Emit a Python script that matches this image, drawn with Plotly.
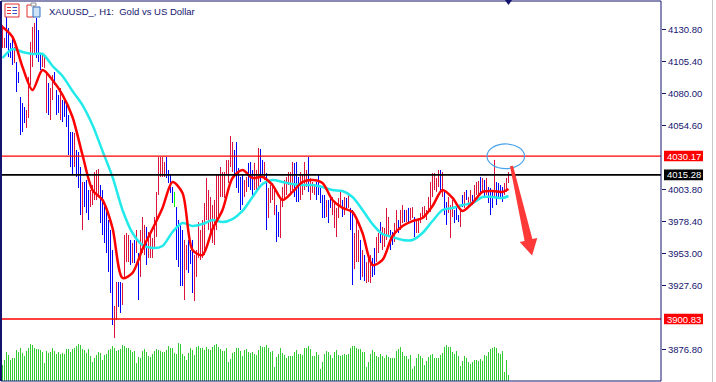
import plotly.graph_objects as go

# ---------------- data (XAUUSD H1) ----------------
highs = [
    4134.3, 4123.9, 4141.4, 4131.8, 4120.0, 4123.9, 4116.8, 4104.8, 4096.9, 4077.1,
    4072.3, 4069.1, 4066.7, 4093.0, 4120.7, 4132.6, 4135.8, 4139.8, 4130.2, 4112.0,
    4110.4, 4108.8, 4096.1, 4088.2, 4084.2, 4094.5, 4096.9, 4082.6, 4078.7, 4084.2,
    4074.7, 4074.7, 4073.1, 4062.8, 4049.3, 4049.3, 4048.5, 4035.0, 4033.4, 4021.5,
    4009.6, 4009.6, 4011.2, 4003.2, 4003.2, 4007.2, 4017.5, 4019.1, 4019.9, 4007.2,
    4003.2, 3993.0, 3987.4, 3979.4, 3971.5, 3955.6, 3911.2, 3930.2, 3930.2, 3930.2,
    3929.4, 3967.5, 3969.1, 3967.5, 3963.6, 3961.2, 3963.6, 3971.5, 3953.2, 3971.5,
    3981.8, 3975.5, 3973.9, 3969.9, 3967.5, 3965.1, 3981.8, 4001.7, 4029.4, 4029.4,
    4029.4, 4025.5, 4029.4, 4019.1, 4015.2, 4005.6, 4001.7, 3989.7, 3979.4, 3975.5,
    3971.5, 3963.6, 3959.6, 3963.6, 3955.6, 3963.6, 3951.6, 3955.6, 3977.8, 3971.5,
    3979.4, 3992.9, 4012.8, 4003.2, 3997.7, 3991.3, 3995.3, 4015.2, 4015.2, 4021.5,
    4017.5, 4017.5, 4027.1, 4027.1, 4046.1, 4041.3, 4035.0, 4041.3, 4020.7, 4013.6,
    4015.2, 4011.2, 4013.6, 4024.7, 4025.5, 4019.1, 4024.7, 4019.1, 4036.6, 4035.8,
    4027.1, 4025.5, 4016.7, 4004.8, 4007.2, 4008.8, 4005.6, 3991.3, 3985.8, 3996.9,
    4005.6, 4011.2, 4013.6, 4017.5, 4017.5, 4025.5, 4024.7, 4025.5, 4013.6, 4017.5,
    4015.2, 4025.5, 4019.1, 4029.4, 4012.8, 4009.6, 4007.2, 4009.6, 4015.2, 4004.8,
    3999.3, 3999.3, 3995.3, 3995.3, 3997.7, 3997.7, 3992.9, 3989.0, 3996.9, 4001.7,
    3995.3, 3997.7, 3996.9, 3999.3, 3989.0, 3987.4, 3969.1, 3981.0, 3971.5, 3963.6,
    3955.6, 3951.6, 3946.1, 3949.3, 3951.6, 3949.3, 3957.2, 3965.9, 3969.1, 3977.8,
    3973.9, 3973.1, 3989.0, 3981.8, 3971.5, 3969.9, 3977.0, 3987.4, 3979.4, 3987.4,
    3991.3, 3987.4, 3987.4, 3989.0, 3989.0, 3989.7, 3981.8, 3979.4, 3981.0, 3985.0,
    3989.7, 3990.5, 3987.4, 3997.7, 4009.6, 4016.7, 4016.7, 4012.8, 4019.1, 4019.1,
    4017.5, 4001.7, 3993.7, 3997.7, 3991.3, 3995.3, 3987.4, 3989.0, 3983.4, 3987.4,
    3999.3, 4001.7, 4003.2, 3997.7, 4003.2, 3999.3, 4007.2, 4009.6, 4010.4, 4013.6,
    4012.8, 4011.2, 4012.8, 4005.6, 4004.8, 4003.2, 4027.1, 4009.6, 4008.8, 4007.2,
    4005.6, 4008.8, 4012.8, 4017.5,
]
lows = [
    4116.0, 4116.0, 4116.0, 4108.8, 4108.0, 4102.5, 4104.0, 4081.0, 4088.2, 4046.9,
    4049.3, 4056.4, 4052.5, 4060.4, 4086.6, 4100.9, 4110.4, 4108.0, 4104.8, 4098.5,
    4100.9, 4100.1, 4064.4, 4062.8, 4058.8, 4074.7, 4086.6, 4062.8, 4064.4, 4058.8,
    4057.2, 4061.2, 4053.3, 4031.0, 4021.5, 4015.2, 4021.5, 4013.6, 4004.8, 3983.4,
    3971.5, 3989.7, 3985.0, 3979.4, 3989.7, 3991.3, 3995.3, 3995.3, 3997.7, 3977.0,
    3967.5, 3961.2, 3953.2, 3938.2, 3921.5, 3896.1, 3885.8, 3900.1, 3910.4, 3905.6,
    3912.0, 3934.2, 3946.1, 3946.1, 3943.7, 3945.3, 3945.3, 3953.2, 3915.9, 3934.2,
    3953.2, 3951.6, 3943.7, 3949.3, 3949.3, 3949.3, 3958.0, 3966.0, 3999.3, 4013.6,
    4013.6, 4013.6, 4012.8, 4008.8, 4000.9, 3992.9, 3989.7, 3947.7, 3942.1, 3927.0,
    3927.0, 3915.9, 3939.7, 3937.4, 3944.5, 3921.5, 3915.1, 3934.2, 3949.3, 3947.7,
    3949.3, 3951.6, 3979.4, 3971.5, 3967.5, 3961.2, 3959.6, 3971.5, 3981.8, 3997.7,
    3997.7, 3996.9, 4015.2, 4008.8, 4021.5, 4017.5, 4015.2, 4004.8, 4000.9, 3987.4,
    3991.3, 3997.7, 4001.7, 4005.6, 4003.2, 3999.3, 4003.2, 4003.2, 4005.6, 4009.6,
    4015.2, 4011.2, 3971.5, 3981.0, 3992.9, 3995.3, 3983.4, 3962.0, 3965.9, 3965.1,
    3989.7, 3995.3, 3999.3, 4007.2, 3999.3, 4003.2, 3997.7, 3993.7, 3993.7, 3995.3,
    3999.3, 4003.2, 4005.6, 4001.7, 3995.3, 4000.9, 3999.3, 3995.3, 3999.3, 3992.9,
    3981.0, 3981.0, 3981.8, 3977.0, 3989.0, 3983.4, 3973.1, 3965.9, 3981.0, 3989.7,
    3981.8, 3983.4, 3987.4, 3989.0, 3971.5, 3927.8, 3940.5, 3946.1, 3946.1, 3931.8,
    3934.2, 3931.0, 3929.4, 3930.2, 3929.4, 3934.2, 3935.8, 3946.1, 3953.2, 3961.2,
    3955.6, 3958.0, 3963.6, 3965.9, 3955.6, 3959.6, 3962.0, 3969.1, 3969.1, 3971.5,
    3977.0, 3977.8, 3977.8, 3977.0, 3979.4, 3981.0, 3965.9, 3969.1, 3969.1, 3977.0,
    3981.8, 3981.0, 3979.4, 3985.0, 3985.8, 3997.7, 4003.2, 4001.7, 4005.6, 4001.7,
    3997.7, 3983.4, 3975.5, 3985.0, 3965.1, 3981.8, 3977.0, 3979.4, 3977.8, 3973.9,
    3989.7, 3989.0, 3995.3, 3989.7, 3991.3, 3991.3, 3995.3, 3999.3, 3999.3, 4000.9,
    4001.7, 3997.7, 3999.3, 3992.9, 3983.4, 3989.0, 3997.7, 3991.3, 3996.9, 3997.7,
    3993.7, 3999.3, 4001.7, 4008.8,
]
# u = up bar, d = down bar, n = doji
directions = (
    "uudddduddd" "dduuuuuddd" "uuuduudddu" "dddddduddd" "uddduuuuud"
    "dddddduudd" "uuuudududu" "uuduuuuuuu" "uuddddnddd" "duuddduuuu"
    "uuuuuuuuuu" "uuuuuudddd" "duuddduuud" "duduuuuddu" "uuuuuudddu"
    "uuuduuuddd" "ddudduuuuu" "dududduuud" "uduuudduud" "uuuudduudu"
    "ududuuduuu" "uuuuuuuuud" "udduuudddu" "duduuduuud" "ududdduddd"
    "duuu"
)
volumes = [
    3200, 4200, 5800, 5200, 4200, 4600, 4600, 6200, 5800, 6600,
    5600, 5000, 6000, 6600, 7400, 7200, 6600, 6400, 6400, 6200,
    5800, 3600, 6000, 5600, 5800, 6600, 6000, 5400, 5800, 5400,
    5600, 5400, 6400, 6400, 5800, 6400, 6600, 7000, 7400, 7200,
    6400, 6200, 5600, 6400, 5000, 3800, 4600, 5200, 5800, 5600,
    4200, 5200, 5400, 6200, 6400, 7000, 6600, 6000, 6200, 6400,
    7200, 7000, 6600, 6600, 6200, 5800, 6000, 3600, 4800, 4600,
    6000, 6400, 5800, 5000, 4800, 5400, 6000, 6400, 6200, 6000,
    5800, 5800, 6200, 7000, 6600, 6600, 5600, 5400, 7600, 7400,
    5400, 5000, 4200, 5600, 6600, 6200, 5200, 6800, 7000, 6600,
    6600, 6200, 6800, 6400, 6200, 6800, 7200, 7400, 6800, 6400,
    6000, 6000, 6600, 3800, 4400, 5600, 5800, 6600, 6600,
    6000, 5000, 6200, 6400, 5800, 5600, 5800, 5400, 5200, 6200,
    7000, 6800, 6800, 7200, 6600, 5800, 6000, 2800, 4800, 5400,
    6600, 5600, 5200, 4600, 5000, 5000, 5000, 5800, 6200, 5400,
    5400, 5200, 6600, 6600, 7000, 6400, 5000, 5000, 5800, 5200,
    2400, 3800, 5400, 6000, 5800, 5200, 4600, 5800, 6200, 5200,
    5000, 5200, 5400, 5200, 5400, 6600, 7000, 7000, 6600, 6400,
    6400, 5800, 5800, 2800, 3800, 5400, 6200, 5800, 5000, 4800,
    5400, 5000, 4600, 5200, 4800, 4600, 4600, 4600, 6000, 6400,
    6800, 5800, 5000, 5000, 4400, 5200, 2400, 3000, 4600, 5400,
    5000, 4600, 3200, 4000, 4800, 5200, 5400, 4600, 4600, 4600,
    5200, 5600, 6800, 7200, 6800, 6800, 5800, 5400, 6000, 5000,
    3000, 4000, 5000, 4600, 3800, 3400, 3800, 4200, 4200, 4000,
    4400, 4000, 5200, 5000, 5800, 6400, 6600, 6800, 6600, 5600,
    5400, 6000, 1800, 4200, 1200,
]
# moving averages, sampled every 5 bars
ma_index = [0, 5, 10, 15, 20, 25, 30, 35, 40, 45, 50, 55, 60, 65, 70, 75, 80, 85, 90, 95,
            100, 105, 110, 115, 120, 125, 130, 135, 140, 145, 150, 155, 160, 165, 170, 175,
            180, 185, 190, 195, 200, 205, 210, 215, 220, 225, 230, 235, 240, 245, 250, 253]
ma_fast = [4132.6, 4124.7, 4100.9, 4082.6, 4098.5, 4090.6, 4078.7, 4061.2, 4031.0, 4003.2,
           3995.3, 3973.1, 3933.4, 3937.4, 3956.4, 3972.3, 3989.0, 4009.6, 4000.9, 3955.6,
           3951.6, 3972.3, 3987.4, 4012.8, 4019.1, 4012.8, 4013.6, 4007.2, 3995.3, 4001.7,
           4009.6, 4011.2, 4008.8, 3995.3, 3989.0, 3985.8, 3969.1, 3943.7, 3947.7, 3966.7,
           3974.7, 3978.6, 3981.0, 3990.5, 4003.2, 3996.9, 3986.6, 3992.9, 4001.7, 4002.4,
           4001.7, 4004.0]
ma_slow = [4108.0, 4115.2, 4112.8, 4111.2, 4111.2, 4101.7, 4093.7, 4081.8, 4070.7, 4054.8,
           4034.2, 4013.6, 3987.4, 3969.1, 3959.6, 3957.2, 3958.8, 3969.9, 3977.0, 3974.7,
           3976.2, 3979.4, 3977.8, 3980.2, 3986.6, 3997.7, 4008.0, 4011.2, 4009.6, 4008.0,
           4007.2, 4007.2, 4005.6, 4003.2, 4002.4, 3997.7, 3987.4, 3976.2, 3968.3, 3965.9,
           3963.6, 3963.6, 3969.1, 3978.6, 3987.4, 3989.0, 3991.3, 3992.9, 3997.7, 3997.7,
           3996.9, 3998.5]
level_lines = [(4030.17, "#ff0000"), (4015.28, "#000000"), (3900.83, "#ff0000")]
tick_vals = [4130.80, 4105.40, 4080.00, 4054.60, 4003.80, 3978.40, 3953.00, 3927.60, 3876.80]
tick_text = ["4130.80", "4105.40", "4080.00", "4054.60", "4003.80", "3978.40", "3953.00",
             "3927.60", "3876.80"]
title_text = "XAUUSD_, H1:\u00a0 Gold vs US Dollar"

# drawings (in bar index / price units)
ellipse_box = (242.25, 261.0, 4020.2, 4039.8)
arrow_pts = [(253.75, 4022.1), (255.25, 4022.5), (264.95, 3964.3), (267.4, 3965.1),
             (264.8, 3951.2), (258.6, 3962.0), (261.05, 3962.8)]

# ---------------- figure ----------------
W, H = 716, 382
ML, MR, MT, MB = 1, 55, 1, 1
PW, PH = W - ML - MR, H - MT - MB
NAVY = "#14146e"
FONT = "Liberation Sans, Arial, sans-serif"
Y_RANGE = [3851.63, 4153.27]
X_RANGE = [-0.75, 329.25]


def px(x):
    return (x - ML) / PW


def py(y):
    return 1 - (y - MT) / PH


fig = go.Figure()

# volumes
fig.add_trace(go.Bar(x=list(range(len(volumes))), y=volumes, width=0.5,
                     marker=dict(color="#32cd32", line=dict(width=0)),
                     yaxis="y2", hoverinfo="skip"))

# price bars
groups = {"d": ("#0000ff", [], []), "u": ("#dc143c", [], []), "n": ("#00ff00", [], [])}
for i, (h, l, d) in enumerate(zip(highs, lows, directions)):
    col, xs, ys = groups[d]
    xs += [i, i, None]
    ys += [l, h, None]
for key, (col, xs, ys) in groups.items():
    fig.add_trace(go.Scatter(x=xs, y=ys, mode="lines", line=dict(color=col, width=1),
                             hoverinfo="skip"))

# moving averages
fig.add_trace(go.Scatter(x=ma_index, y=ma_slow, mode="lines",
                         line=dict(color="#22eaea", width=2.5, shape="spline", smoothing=0.8)))
fig.add_trace(go.Scatter(x=ma_index, y=ma_fast, mode="lines",
                         line=dict(color="#ff0000", width=2.5, shape="spline", smoothing=0.8)))

shapes = []
# level lines
for val, col in level_lines:
    shapes.append(dict(type="line", xref="paper", yref="y", x0=0, x1=1, y0=val, y1=val,
                       line=dict(color=col, width=1.3 if col != "#000000" else 1.6)))
# price label boxes
annotations = []
for val, col in level_lines:
    shapes.append(dict(type="rect", xref="paper", yref="y", x0=px(664), x1=px(703),
                       y0=val - 4.2, y1=val + 4.2, fillcolor=col, line=dict(width=0)))
    annotations.append(dict(xref="paper", yref="y", x=px(683.5), y=val, text=f"{val:.2f}",
                            showarrow=False, font=dict(family=FONT, size=9.5, color="#ffffff"),
                            xanchor="center", yanchor="middle"))
# frame
shapes += [
    dict(type="line", xref="paper", yref="paper", x0=0, x1=0, y0=0, y1=1,
         line=dict(color=NAVY, width=2)),
    dict(type="line", xref="paper", yref="paper", x0=0, x1=1, y0=1, y1=1,
         line=dict(color=NAVY, width=1)),
    dict(type="line", xref="paper", yref="paper", x0=0, x1=1, y0=0, y1=0,
         line=dict(color=NAVY, width=1)),
    dict(type="line", xref="paper", yref="paper", x0=1, x1=1, y0=0, y1=1,
         line=dict(color=NAVY, width=1)),
    dict(type="line", xref="paper", yref="paper", x0=px(712.5), x1=px(712.5), y0=-0.01, y1=1.01,
         line=dict(color="#c8c8c8", width=1)),
]
# ellipse and arrow
ex0, ex1, ey0, ey1 = ellipse_box
shapes.append(dict(type="circle", xref="x", yref="y", x0=ex0, x1=ex1, y0=ey0, y1=ey1,
                   line=dict(color="#4aa3ea", width=1.2)))
path = "M " + " L ".join(f"{x},{y}" for x, y in arrow_pts) + " Z"
shapes.append(dict(type="path", xref="x", yref="y", path=path,
                   fillcolor="#ff3838", line=dict(width=0)))
# shift marker at the top, above last bar
last = len(highs) - 1
shapes.append(dict(type="path", xref="x", yref="paper",
                   path=f"M {last-1.8},{py(0)} L {last+1.8},{py(0)} L {last},{py(5)} Z",
                   fillcolor=NAVY, line=dict(width=0)))
# title icons
shapes += [
    dict(type="rect", xref="paper", yref="paper", x0=px(5), x1=px(19), y0=py(17), y1=py(4),
         line=dict(color="#e03030", width=1), fillcolor="#ffffff"),
    dict(type="line", xref="paper", yref="paper", x0=px(7), x1=px(11), y0=py(7.5), y1=py(7.5),
         line=dict(color="#e03030", width=1)),
    dict(type="line", xref="paper", yref="paper", x0=px(7), x1=px(11), y0=py(10.5), y1=py(10.5),
         line=dict(color="#e03030", width=1)),
    dict(type="line", xref="paper", yref="paper", x0=px(7), x1=px(11), y0=py(13.5), y1=py(13.5),
         line=dict(color="#e03030", width=1)),
    dict(type="line", xref="paper", yref="paper", x0=px(12.5), x1=px(17), y0=py(7.5), y1=py(7.5),
         line=dict(color="#3050c0", width=1)),
    dict(type="line", xref="paper", yref="paper", x0=px(12.5), x1=px(17), y0=py(10.5), y1=py(10.5),
         line=dict(color="#3050c0", width=1)),
    dict(type="line", xref="paper", yref="paper", x0=px(12.5), x1=px(17), y0=py(13.5), y1=py(13.5),
         line=dict(color="#3050c0", width=1)),
    dict(type="rect", xref="paper", yref="paper", x0=px(27), x1=px(34), y0=py(17), y1=py(5),
         line=dict(color="#e03030", width=1), fillcolor="#ffffff"),
    dict(type="rect", xref="paper", yref="paper", x0=px(33), x1=px(40), y0=py(17), y1=py(7),
         line=dict(color="#3070c0", width=1), fillcolor="#cfe3f7"),
    dict(type="rect", xref="paper", yref="paper", x0=px(31), x1=px(36), y0=py(6), y1=py(3),
         line=dict(color="#909090", width=1), fillcolor="#ffffff"),
]

annotations.append(dict(xref="paper", yref="paper", x=px(46.5), y=py(12), text=title_text,
                        showarrow=False, xanchor="left", yanchor="middle",
                        font=dict(family=FONT, size=9.5, color=NAVY)))

fig.update_layout(
    width=W, height=H,
    margin=dict(l=ML, r=MR, t=MT, b=MB, pad=0),
    paper_bgcolor="#ffffff", plot_bgcolor="#ffffff",
    showlegend=False, bargap=0,
    xaxis=dict(range=X_RANGE, visible=False, fixedrange=True),
    yaxis=dict(range=Y_RANGE, side="right", showgrid=False, zeroline=False, showline=False,
               ticks="outside", ticklen=4, tickwidth=1, tickcolor=NAVY,
               tickvals=tick_vals, ticktext=tick_text,
               tickfont=dict(family=FONT, size=9.5, color=NAVY), fixedrange=True),
    yaxis2=dict(range=[0, 76000], overlaying="y", visible=False, fixedrange=True),
    shapes=shapes,
    annotations=annotations,
)

fig.write_html("out.html", config={"displayModeBar": False})
